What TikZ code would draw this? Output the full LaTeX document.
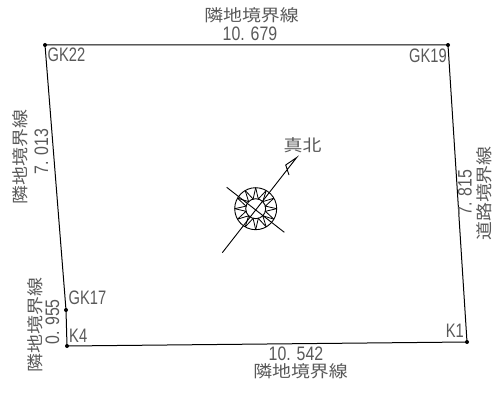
\documentclass[tikz,border=0pt]{standalone}
\usepackage{fontspec}
\usetikzlibrary{calc}
\setmainfont{Noto Sans CJK JP}
\newfontfamily\lat{Liberation Sans}
\tikzset{
 bound/.style={line width=1pt,black},
 lbl/.style={text=black!65,inner sep=0pt,font=\fontsize{15}{15}\selectfont},
 dot/.style={circle,fill=black,inner sep=0pt,minimum size=4pt},
 north/.style={line width=0.9pt,black}
}
\newcommand{\jp}[1]{\scalebox{1.26}[1.1]{#1}}
\newcommand{\nm}[1]{\scalebox{1.06}[1.3]{\lat #1}}
\newcommand{\tg}[1]{\scalebox{0.98}[1.3]{\lat #1}}
\begin{document}
\begin{tikzpicture}[x=1pt,y=-1pt]
\useasboundingbox (0,0) rectangle (493,393);
\node[dot] (g22) at (45,45) {};
\node[dot] (g19) at (448,45) {};
\node[dot] (k1) at (467,342) {};
\node[dot] (k4) at (67,346) {};
\node[dot] (g17) at (66,310) {};
\draw[bound] (g22.center)--(g19.center)--(k1.center)--(k4.center)--(g17.center)--(g22.center);
\node[lbl,anchor=west] (t1) at (47.5,55) {\tg{GK22}};
\node[lbl,anchor=east] (t2) at (447,55.5) {\tg{GK19}};
\node[lbl,anchor=west] (t3) at (68.5,298) {\tg{GK17}};
\node[lbl,anchor=west] (t4) at (69,335.5) {\tg{K4}};
\node[lbl,anchor=east] (t5) at (464,330.5) {\tg{K1}};
\node[lbl] (a1) at (251.5,15) {\jp{隣地境界線}};
\node[lbl] (a2) at (250,34) {\nm{10. 679}};
\node[lbl] (b1) at (300.5,371) {\jp{隣地境界線}};
\node[lbl] (b2) at (296,353.5) {\nm{10. 542}};
\node[lbl,rotate=90] (c1) at (20.5,157) {\jp{隣地境界線}};
\node[lbl,rotate=90] (c2) at (41.5,151.5) {\nm{7. 013}};
\node[lbl,rotate=90] (d1) at (35,325) {\jp{隣地境界線}};
\node[lbl,rotate=90] (d2) at (52.5,322) {\nm{0. 955}};
\node[lbl,rotate=90] (e1) at (484.5,193.5) {\jp{道路境界線}};
\node[lbl,rotate=90] (e2) at (465,192.5) {\nm{7. 815}};
\node[lbl] (n) at (302.5,145) {\jp{真北}};
\coordinate (c) at (255.7,208.7);
\draw[north] (222.3,252.7)--(296.7,157.5)--(285.7,165)--(289,175);
\draw[north] (226.7,187.3)--(284.3,232.3);
\draw[north] (c) circle (21);
\draw[north] (c) circle (10);
\foreach \i in {0,...,11}{
 \draw[north,line width=.8pt] ($(c)+(\i*30:21)$)--($(c)+(\i*30+15:10)$)--($(c)+(\i*30+30:21)$);
}
\end{tikzpicture}
\end{document}
